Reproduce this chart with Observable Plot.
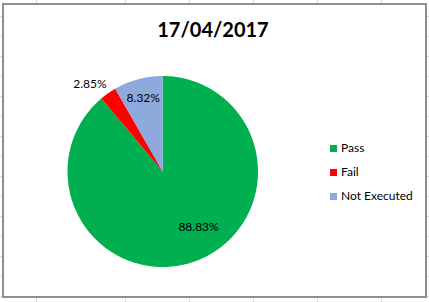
<!DOCTYPE html>
<html>
<head>
<meta charset="utf-8">
<script src="https://cdn.jsdelivr.net/npm/d3@7"></script>
<script src="https://cdn.jsdelivr.net/npm/@observablehq/plot@0.6"></script>
<style>
html, body { margin: 0; padding: 0; background: #fff; }
#wrap { position: relative; width: 429px; height: 302px; overflow: hidden; background: #fff; font-family: Lato, "Open Sans", sans-serif; }
.gv { position: absolute; top: 0; width: 1px; height: 302px; background: #d9d9d9; }
.gh { position: absolute; left: 0; height: 1px; width: 429px; background: #d9d9d9; }
#box { position: absolute; left: 2px; top: 3px; width: 425px; height: 295px; box-sizing: border-box; border: 2px solid #8f8f8f; background: #fff; }
#chart { position: absolute; left: 0; top: 0; }
#title { position: absolute; left: 0; top: 19px; width: 426px; text-align: center; font-size: 20px; line-height: 20px; font-weight: bold; color: #000; }
.leg { position: absolute; left: 330px; height: 12px; font-size: 12px; line-height: 12px; color: #000; white-space: nowrap; }
.leg span.sw { position: absolute; left: 0; top: 3px; width: 7px; height: 7px; }
.leg span.tx { position: absolute; left: 11px; top: 0; }
</style>
</head>
<body>
<div id="wrap"><div id="box"></div></div>
<script>
// ---- data ----
const title = "17/04/2017";
const categories = ["Pass", "Fail", "Not Executed"];
const shares = [88.83, 2.85, 8.32];
const valueLabels = ["88.83%", "2.85%", "8.32%"];
const colors = ["#00B050", "#FF0000", "#8EA9DB"];

// ---- label placement (angle in degrees clockwise from 12 o'clock, radius as fraction of pie radius) ----
const labelAngles = [147, 320, 345];
const labelRadii = [0.69, 1.19, 0.79];

const wrap = document.getElementById("wrap");

// spreadsheet gridlines behind the chart
const colLines = [36, 125, 189, 253, 317, 381];
for (const x of colLines) {
  const d = document.createElement("div");
  d.className = "gv"; d.style.left = x + "px";
  wrap.insertBefore(d, wrap.firstChild);
}
for (let y = 16; y < 302; y += 20) {
  const d = document.createElement("div");
  d.className = "gh"; d.style.top = y + "px";
  wrap.insertBefore(d, wrap.firstChild);
}

// slice polygons from shares
const total = d3.sum(shares);
const slicePts = [];
let acc = 0;
categories.forEach((c, i) => {
  const a0 = acc / total * 2 * Math.PI;
  acc += shares[i];
  const a1 = acc / total * 2 * Math.PI;
  slicePts.push({category: c, x: 0, y: 0});
  const n = Math.max(2, Math.ceil((a1 - a0) / (Math.PI / 360)));
  for (let k = 0; k <= n; k++) {
    const a = a0 + (a1 - a0) * k / n;
    slicePts.push({category: c, x: Math.sin(a), y: Math.cos(a)});
  }
});

const labelData = categories.map((c, i) => {
  const a = labelAngles[i] * Math.PI / 180;
  return {category: c, label: valueLabels[i], x: labelRadii[i] * Math.sin(a), y: labelRadii[i] * Math.cos(a)};
});

const chart = Plot.plot({
  width: 429,
  height: 302,
  marginLeft: 67,
  marginRight: 171.5,
  marginTop: 75.5,
  marginBottom: 35.5,
  x: {domain: [-1, 1], axis: null},
  y: {domain: [-1, 1], axis: null},
  color: {domain: categories, range: colors},
  style: {background: "transparent", overflow: "visible"},
  marks: [
    Plot.line(slicePts, {x: "x", y: "y", z: "category", fill: "category", stroke: "none", curve: "linear-closed"}),
    Plot.text(labelData, {x: "x", y: "y", text: "label", fill: "#000", fontSize: 12, fontFamily: "Lato, 'Open Sans', sans-serif", textAnchor: "middle", lineAnchor: "middle"})
  ]
});
chart.id = "chart";
wrap.appendChild(chart);

const t = document.createElement("div");
t.id = "title"; t.textContent = title;
wrap.appendChild(t);

const legendTops = [142, 166, 190];
categories.forEach((c, i) => {
  const item = document.createElement("div");
  item.className = "leg";
  item.style.top = legendTops[i] + "px";
  const sw = document.createElement("span");
  sw.className = "sw"; sw.style.background = colors[i];
  const tx = document.createElement("span");
  tx.className = "tx"; tx.textContent = c;
  item.appendChild(sw); item.appendChild(tx);
  wrap.appendChild(item);
});
</script>
</body>
</html>
